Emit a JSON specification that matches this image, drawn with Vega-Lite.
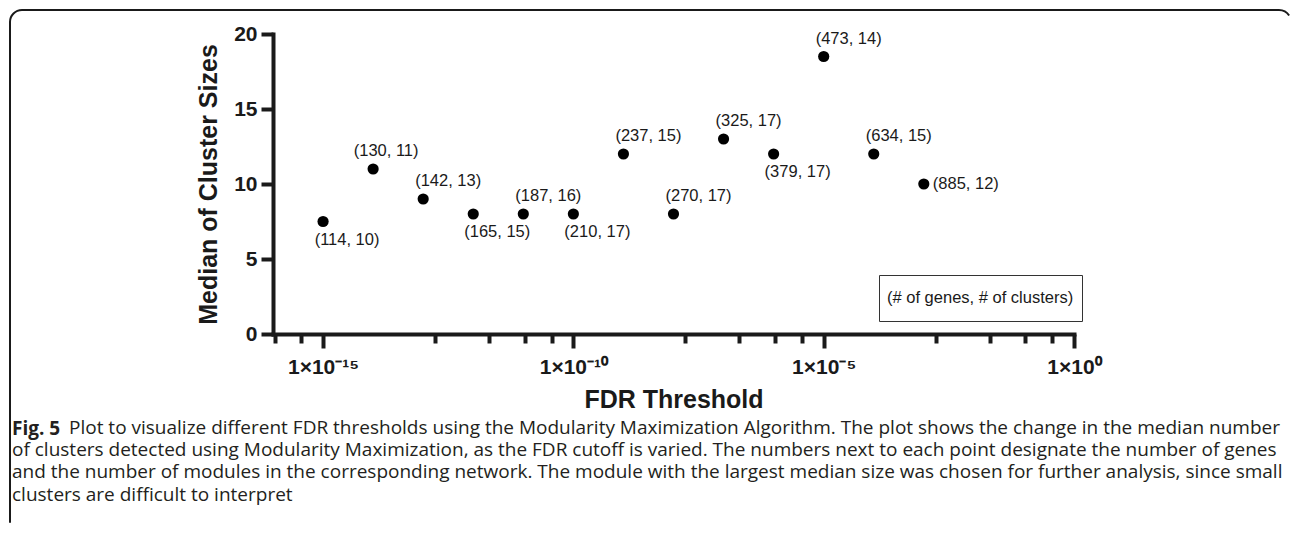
{
  "$schema": "https://vega.github.io/schema/vega-lite/v6.json",
  "width": 1281,
  "height": 525,
  "autosize": {"type": "none"},
  "padding": {"left": 10, "top": 10, "right": 1, "bottom": 0},
  "background": "white",
  "config": {
    "font": "Liberation Sans",
    "view": {"stroke": "#1a1a1a", "strokeWidth": 2, "cornerRadius": 12, "strokeDash": [1269, 1802.55, 600]}
  },
  "title": {
    "text": "Fig. 5",
    "subtitle": [
      "\u200b\u2003\u2003\u2003Plot to visualize different FDR thresholds using the Modularity Maximization Algorithm. The plot shows the change in the median number",
      "of clusters detected using Modularity Maximization, as the FDR cutoff is varied. The numbers next to each point designate the number of genes",
      "and the number of modules in the corresponding network. The module with the largest median size was chosen for further analysis, since small",
      "clusters are difficult to interpret"
    ],
    "orient": "bottom",
    "anchor": "start",
    "frame": "group",
    "offset": -115,
    "dx": 2,
    "font": "Open Sans",
    "fontSize": 19,
    "fontWeight": "bold",
    "color": "#231f20",
    "subtitleFont": "Open Sans",
    "subtitleFontSize": 19,
    "subtitleColor": "#231f20",
    "subtitleLineHeight": 22.4,
    "subtitlePadding": -20.5
  },
  "data": {
    "values": [
      {"fdr": 1e-15, "median": 7.5, "genes": 114, "clusters": 10, "label": "(114, 10)"},
      {"fdr": 1e-14, "median": 11, "genes": 130, "clusters": 11, "label": "(130, 11)"},
      {"fdr": 1e-13, "median": 9, "genes": 142, "clusters": 13, "label": "(142, 13)"},
      {"fdr": 1e-12, "median": 8, "genes": 165, "clusters": 15, "label": "(165, 15)"},
      {"fdr": 1e-11, "median": 8, "genes": 187, "clusters": 16, "label": "(187, 16)"},
      {"fdr": 1e-10, "median": 8, "genes": 210, "clusters": 17, "label": "(210, 17)"},
      {"fdr": 1e-9, "median": 12, "genes": 237, "clusters": 15, "label": "(237, 15)"},
      {"fdr": 1e-8, "median": 8, "genes": 270, "clusters": 17, "label": "(270, 17)"},
      {"fdr": 1e-7, "median": 13, "genes": 325, "clusters": 17, "label": "(325, 17)"},
      {"fdr": 1e-6, "median": 12, "genes": 379, "clusters": 17, "label": "(379, 17)"},
      {"fdr": 1e-5, "median": 18.5, "genes": 473, "clusters": 14, "label": "(473, 14)"},
      {"fdr": 1e-4, "median": 12, "genes": 634, "clusters": 15, "label": "(634, 15)"},
      {"fdr": 1e-3, "median": 10, "genes": 885, "clusters": 12, "label": "(885, 12)"}
    ]
  },
  "layer": [
    {
      "mark": {"type": "point", "filled": true, "size": 125, "opacity": 1},
      "encoding": {
        "x": {
          "field": "fdr",
          "type": "quantitative",
          "scale": {"type": "log", "domain": [1e-16, 1], "range": [263, 1064], "nice": false},
          "axis": {
            "values": [1.074e-16, 3.707e-16, 1e-15, 1.722e-13, 2.061e-12, 1.074e-11, 3.707e-11, 1e-10, 1.722e-8, 2.061e-7, 1.074e-6, 3.707e-6, 1e-5, 1.722e-3, 2.061e-2, 0.1074, 0.3707, 1],
            "labelExpr": "datum.value === 1e-15 ? '1×10⁻¹⁵' : datum.value === 1e-10 ? '1×10⁻¹⁰' : datum.value === 1e-5 ? '1×10⁻⁵' : datum.value === 1 ? '1×10⁰' : ''",
            "labelFont": "Liberation Sans",
            "labelFontWeight": "bold",
            "labelFontSize": 21,
            "labelColor": "#1a1a1a",
            "labelPadding": 8,
            "labelOverlap": false,
            "labelBound": false,
            "labelFlush": false,
            "tickSize": {"condition": {"test": "datum.value === 1e-15 || datum.value === 1e-10 || datum.value === 1e-5 || datum.value === 1", "value": 14}, "value": 9},
            "tickWidth": 4,
            "tickColor": "#1a1a1a",
            "domainWidth": 4,
            "domainColor": "#1a1a1a",
            "domainCap": "square",
            "grid": false,
            "offset": -201,
            "title": "FDR Threshold",
            "titleFont": "Liberation Sans",
            "titleFontWeight": "bold",
            "titleFontSize": 25,
            "titleColor": "#1a1a1a",
            "titlePadding": 10
          }
        },
        "y": {
          "field": "median",
          "type": "quantitative",
          "scale": {"domain": [0, 20], "range": [324, 24], "nice": false, "zero": false},
          "axis": {
            "values": [0, 5, 10, 15, 20],
            "labelFont": "Liberation Sans",
            "labelFontWeight": "bold",
            "labelFontSize": 21,
            "labelColor": "#1a1a1a",
            "labelPadding": 4,
            "tickSize": 12,
            "tickWidth": 4,
            "tickColor": "#1a1a1a",
            "domainWidth": 4,
            "domainColor": "#1a1a1a",
            "domainCap": "square",
            "grid": false,
            "offset": -263,
            "title": "Median of Cluster Sizes",
            "titleFont": "Liberation Sans",
            "titleFontWeight": "bold",
            "titleFontSize": 25,
            "titleColor": "#1a1a1a",
            "titlePadding": 12
          }
        },
        "color": {
          "datum": "(# of genes, # of clusters)",
          "scale": {"range": ["#000000"]},
          "legend": {
            "orient": "none",
            "legendX": 869,
            "legendY": 265,
            "title": null,
            "strokeColor": "#333333",
            "fillColor": "white",
            "padding": 8,
            "symbolSize": 900,
            "symbolOpacity": 0,
            "symbolStrokeWidth": 0,
            "labelOffset": -30,
            "labelFont": "Liberation Sans",
            "labelFontSize": 16.5,
            "labelColor": "#1a1a1a",
            "labelLimit": 400
          }
        }
      }
    },
    {
      "transform": [{"filter": {"field": "genes", "oneOf": [142, 187, 237, 270, 325, 473, 634]}}],
      "mark": {"type": "text", "dx": 25, "dy": -18, "font": "Liberation Sans", "fontSize": 16.5, "color": "#1a1a1a"},
      "encoding": {
        "x": {"field": "fdr", "type": "quantitative"},
        "y": {"field": "median", "type": "quantitative"},
        "text": {"field": "label"}
      }
    },
    {
      "transform": [{"filter": {"field": "genes", "oneOf": [130]}}],
      "mark": {"type": "text", "dx": 13, "dy": -18, "font": "Liberation Sans", "fontSize": 16.5, "color": "#1a1a1a"},
      "encoding": {
        "x": {"field": "fdr", "type": "quantitative"},
        "y": {"field": "median", "type": "quantitative"},
        "text": {"field": "label"}
      }
    },
    {
      "transform": [{"filter": {"field": "genes", "oneOf": [114, 165, 210, 379]}}],
      "mark": {"type": "text", "dx": 24, "dy": 18, "font": "Liberation Sans", "fontSize": 16.5, "color": "#1a1a1a"},
      "encoding": {
        "x": {"field": "fdr", "type": "quantitative"},
        "y": {"field": "median", "type": "quantitative"},
        "text": {"field": "label"}
      }
    },
    {
      "transform": [{"filter": {"field": "genes", "oneOf": [885]}}],
      "mark": {"type": "text", "align": "left", "dx": 9, "dy": 0, "font": "Liberation Sans", "fontSize": 16.5, "color": "#1a1a1a"},
      "encoding": {
        "x": {"field": "fdr", "type": "quantitative"},
        "y": {"field": "median", "type": "quantitative"},
        "text": {"field": "label"}
      }
    }
  ]
}
